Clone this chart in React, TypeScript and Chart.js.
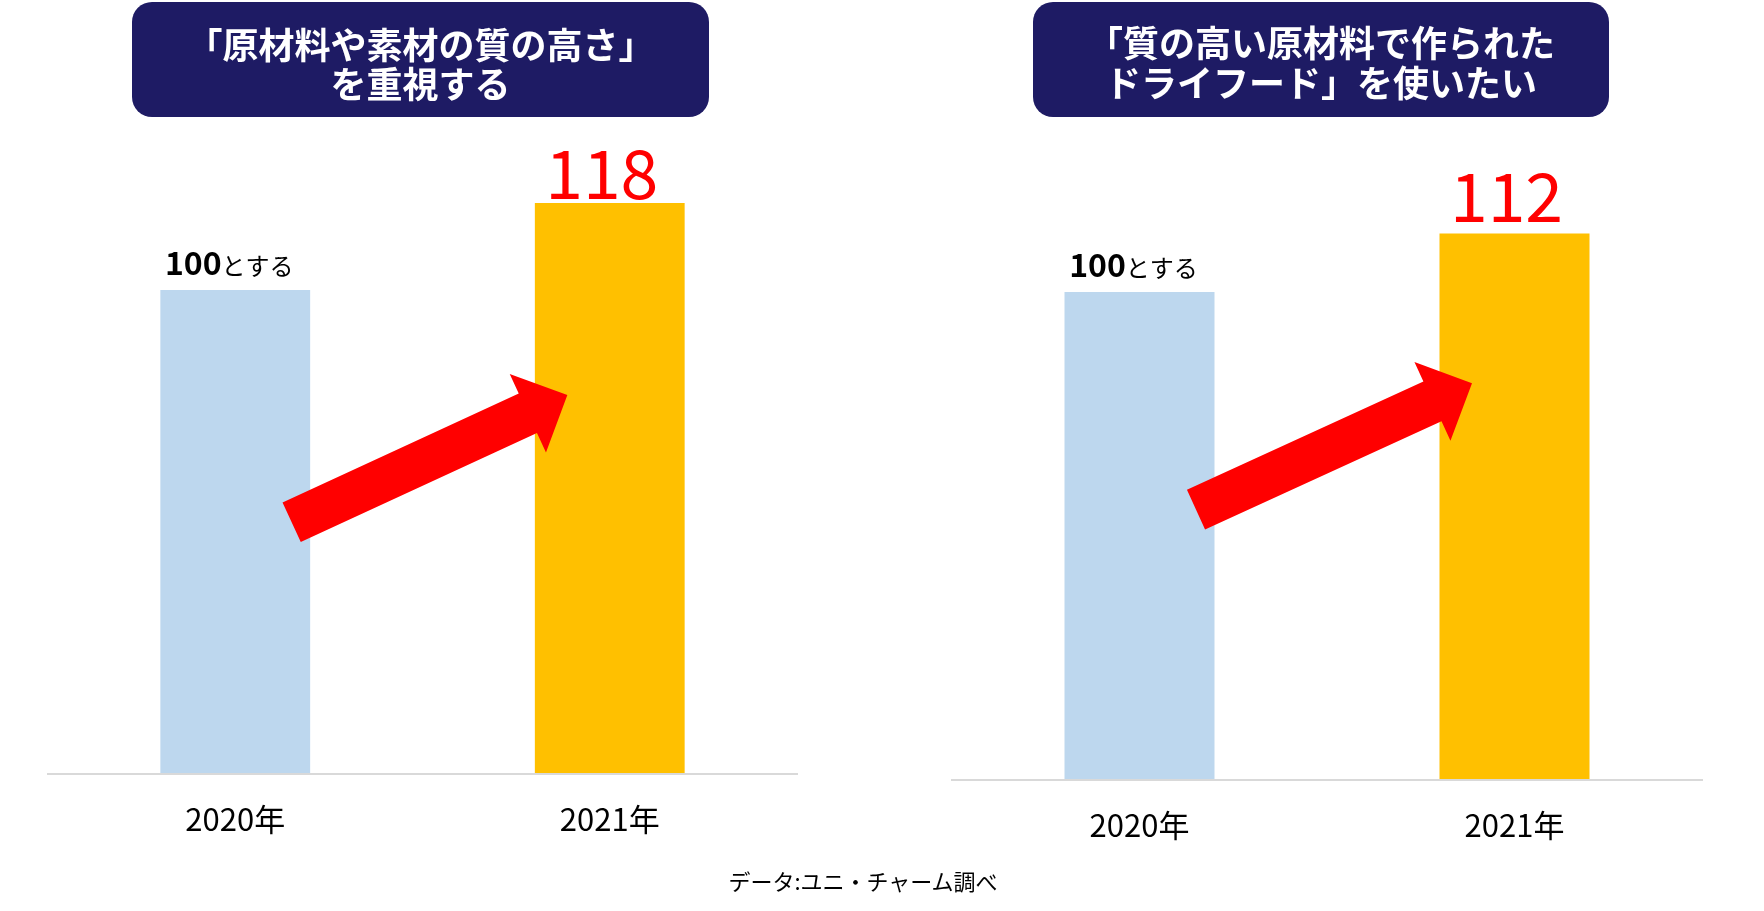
import React, { useEffect, useRef } from "react";
import { Chart, registerables } from "chart.js";

Chart.register(...registerables);

const FONT = '"Noto Sans CJK JP", "Noto Sans", sans-serif';

// ---- data ----
const categories = ["2020年", "2021年"];
const leftValues = [100, 118];
const rightValues = [100, 112];
const leftTitleLines = ["「原材料や素材の質の高さ」", "を重視する"];
const rightTitleLines = ["「質の高い原材料で作られた", "ドライフード」を使いたい"];
const baseLabelNumber = "100";
const baseLabelSuffix = "とする";
const leftArrowValues = [52, 78.3];
const rightArrowValues = [55.4, 81.3];
const sourceNote = "データ:ユニ・チャーム調べ";
const barColors = ["#BDD7EE", "#FFC000"];

type PanelCfg = {
  left: number;
  padLeft: number;
  padRight: number;
  padTop: number;
  axisHeight: number;
  boxLeft: number;
  boxWidth: number;
  titleY: number[];
  valueGap: number;
};

const leftCfg: PanelCfg = {
  left: 0,
  padLeft: 48,
  padRight: 85,
  padTop: 96.4,
  axisHeight: 137,
  boxLeft: 132,
  boxWidth: 577,
  titleY: [45, 84],
  valueGap: 4,
};

const rightCfg: PanelCfg = {
  left: 882,
  padLeft: 70,
  padRight: 62,
  padTop: 96.8,
  axisHeight: 131,
  boxLeft: 151,
  boxWidth: 576,
  titleY: [43, 83],
  valueGap: 11,
};

function drawArrow(ctx: CanvasRenderingContext2D, x0: number, y0: number, x1: number, y1: number) {
  const shaftW = 43.5;
  const headW = 86.5;
  const headL = 43.5;
  const dx = x1 - x0;
  const dy = y1 - y0;
  const len = Math.hypot(dx, dy);
  const ux = dx / len;
  const uy = dy / len;
  const nx = -uy;
  const ny = ux;
  const bx = x1 - ux * headL;
  const by = y1 - uy * headL;
  ctx.beginPath();
  ctx.moveTo(x0 + (nx * shaftW) / 2, y0 + (ny * shaftW) / 2);
  ctx.lineTo(bx + (nx * shaftW) / 2, by + (ny * shaftW) / 2);
  ctx.lineTo(bx + (nx * headW) / 2, by + (ny * headW) / 2);
  ctx.lineTo(x1, y1);
  ctx.lineTo(bx - (nx * headW) / 2, by - (ny * headW) / 2);
  ctx.lineTo(bx - (nx * shaftW) / 2, by - (ny * shaftW) / 2);
  ctx.lineTo(x0 - (nx * shaftW) / 2, y0 - (ny * shaftW) / 2);
  ctx.closePath();
  ctx.fillStyle = "#FF0000";
  ctx.fill();
}

function Panel({
  values,
  titleLines,
  arrowValues,
  cfg,
}: {
  values: number[];
  titleLines: string[];
  arrowValues: number[];
  cfg: PanelCfg;
}) {
  const ref = useRef<HTMLCanvasElement>(null);

  useEffect(() => {
    const canvas = ref.current;
    if (!canvas) return;

    const decor = {
      id: "panelDecor",
      afterDraw(chart: any) {
        const ctx: CanvasRenderingContext2D = chart.ctx;
        const bars = chart.getDatasetMeta(0).data as any[];
        const yScale = chart.scales.y;
        ctx.save();

        // title box
        ctx.fillStyle = "#1E1B64";
        ctx.beginPath();
        (ctx as any).roundRect(cfg.boxLeft, 2, cfg.boxWidth, 115, 20);
        ctx.fill();
        ctx.fillStyle = "#FFFFFF";
        ctx.font = `bold 36px ${FONT}`;
        ctx.textAlign = "center";
        ctx.textBaseline = "middle";
        titleLines.forEach((line, i) => {
          ctx.fillText(line, cfg.boxLeft + cfg.boxWidth / 2, cfg.titleY[i]);
        });

        // arrow
        const b0 = bars[0];
        const b1 = bars[1];
        const tailX = b0.x + b0.width / 2 - 18.5;
        const tipX = b1.x - b1.width / 2 + 32.5;
        drawArrow(
          ctx,
          tailX,
          yScale.getPixelForValue(arrowValues[0]),
          tipX,
          yScale.getPixelForValue(arrowValues[1])
        );

        // base label "100とする"
        ctx.textBaseline = "alphabetic";
        ctx.textAlign = "left";
        ctx.fillStyle = "#000000";
        ctx.font = `bold 32px ${FONT}`;
        const w1 = ctx.measureText(baseLabelNumber).width;
        ctx.font = `24px ${FONT}`;
        const w2 = ctx.measureText(baseLabelSuffix).width;
        const sx = b0.x - 6 - (w1 + w2) / 2;
        const sy = b0.y - 15;
        ctx.font = `bold 32px ${FONT}`;
        ctx.fillText(baseLabelNumber, sx, sy);
        ctx.font = `24px ${FONT}`;
        ctx.fillText(baseLabelSuffix, sx + w1, sy);

        // value label
        ctx.font = `68px ${FONT}`;
        ctx.fillStyle = "#FF0000";
        ctx.textAlign = "center";
        ctx.fillText(String(values[1]), b1.x - 8, b1.y - cfg.valueGap);

        ctx.restore();
      },
    };

    const chart = new Chart(canvas, {
      type: "bar",
      data: {
        labels: categories,
        datasets: [
          {
            data: values,
            backgroundColor: barColors,
            borderWidth: 0,
            barPercentage: 0.4,
            categoryPercentage: 1,
          },
        ],
      },
      options: {
        animation: false,
        responsive: false,
        maintainAspectRatio: false,
        layout: {
          padding: { left: cfg.padLeft, right: cfg.padRight, top: cfg.padTop, bottom: 0 },
        },
        plugins: {
          legend: { display: false },
          tooltip: { enabled: false },
          title: { display: false },
        },
        scales: {
          x: {
            grid: { display: false, drawTicks: false },
            border: { display: true, color: "#D9D9D9", width: 2, z: 1 },
            ticks: { color: "#000000", font: { family: FONT, size: 31 }, padding: 27 },
            afterFit: (scale: any) => {
              scale.height = cfg.axisHeight;
            },
          },
          y: { display: false, min: 0, max: 140 },
        },
      },
      plugins: [decor],
    } as any);

    return () => chart.destroy();
  }, []);

  return (
    <canvas
      ref={ref}
      width={882}
      height={911}
      style={{ position: "absolute", left: cfg.left, top: 0, width: 882, height: 911, display: "block" }}
    />
  );
}

export default function App() {
  return (
    <div
      style={{
        position: "absolute",
        left: 0,
        top: 0,
        width: 1764,
        height: 911,
        background: "#FFFFFF",
        overflow: "hidden",
      }}
    >
      <Panel values={leftValues} titleLines={leftTitleLines} arrowValues={leftArrowValues} cfg={leftCfg} />
      <Panel values={rightValues} titleLines={rightTitleLines} arrowValues={rightArrowValues} cfg={rightCfg} />
      <div
        style={{
          position: "absolute",
          left: 663,
          top: 865,
          width: 400,
          textAlign: "center",
          fontFamily: FONT,
          fontSize: 22,
          lineHeight: "30px",
          color: "#000",
        }}
      >
        {sourceNote}
      </div>
    </div>
  );
}
